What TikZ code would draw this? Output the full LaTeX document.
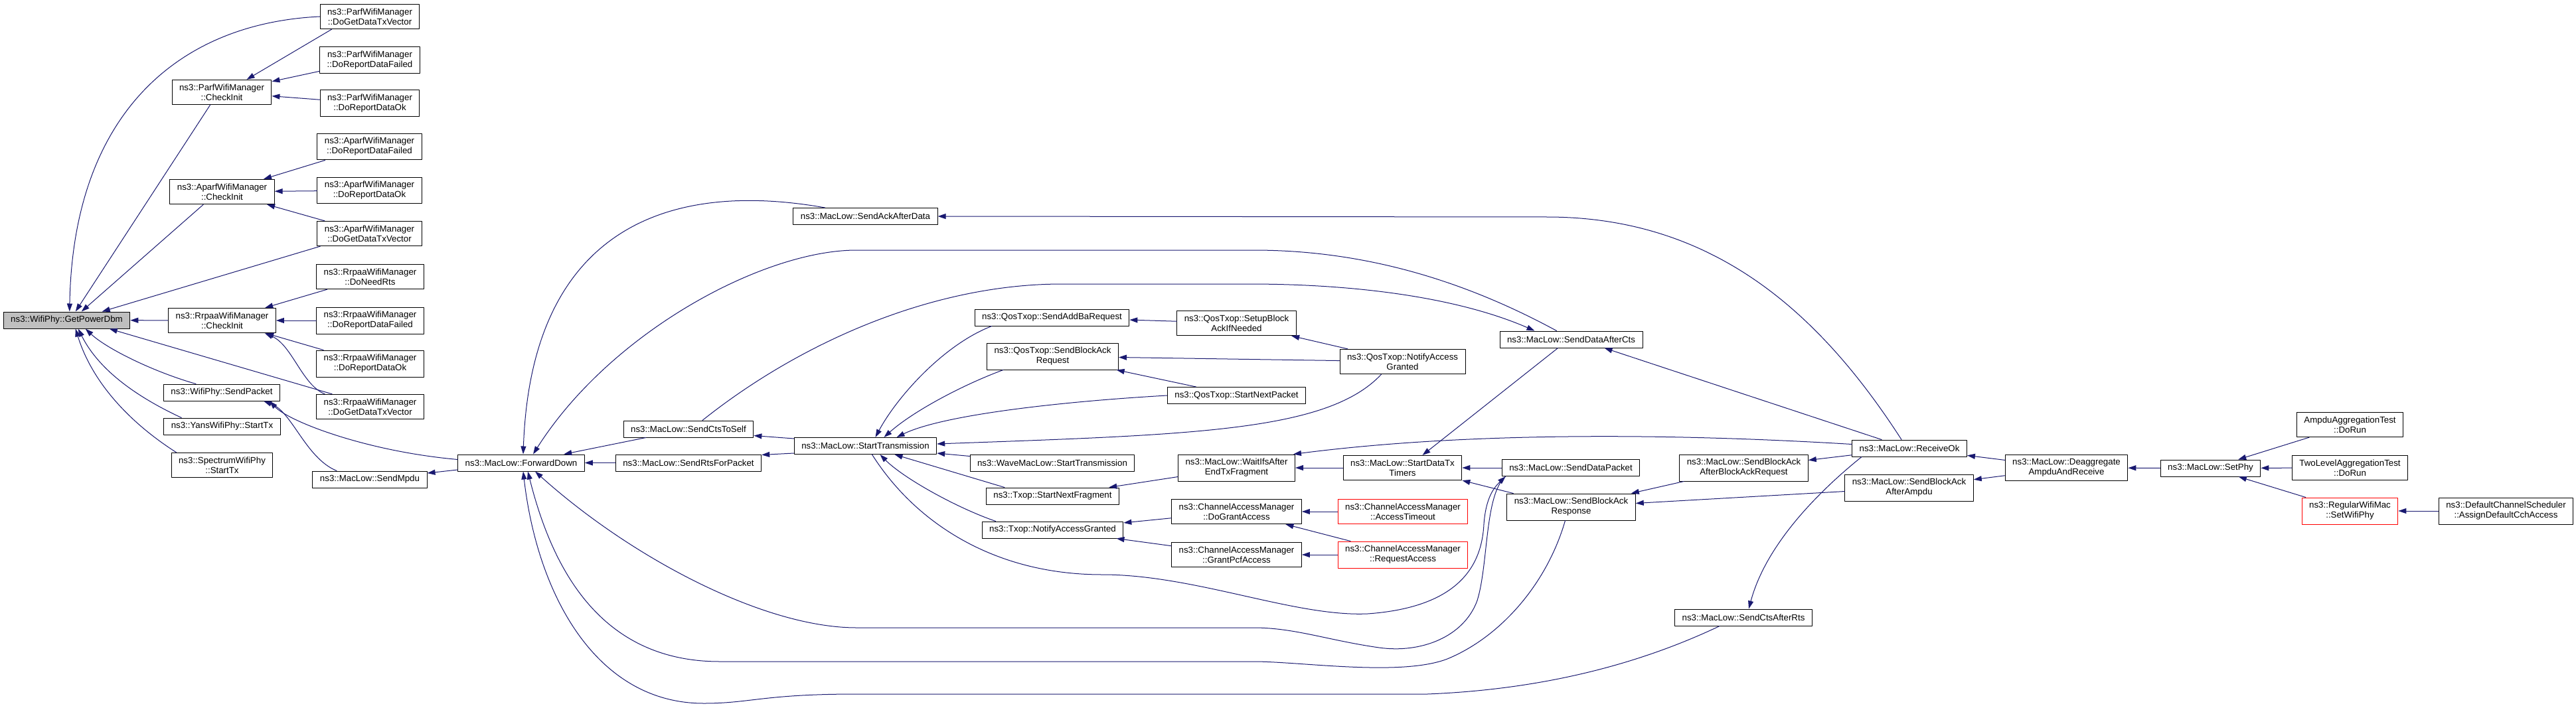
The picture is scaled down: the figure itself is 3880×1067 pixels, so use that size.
\documentclass[tikz,border=0pt]{standalone}
\usepackage{fontspec}
\setmainfont{Liberation Sans}
\usetikzlibrary{arrows.meta}
\definecolor{edgeblue}{RGB}{25,25,112}
\definecolor{focusgray}{RGB}{191,191,191}
\begin{document}
\begin{tikzpicture}[x=1pt,y=-1pt,font=\fontsize{13.3}{15}\selectfont,line join=round,line cap=round,>={Triangle[length=12pt,width=8pt]},
	fn/.style={draw=black,fill=white,line width=1pt,align=center,inner xsep=11pt,inner ysep=6.3pt,minimum height=25pt},
	focus/.style={fn,fill=focusgray},
	undoc/.style={fn,draw=red},
	call/.style={->,edgeblue,line width=1pt}]
	\useasboundingbox (0,0) rectangle (3880,1067);
	% functions
	\node[focus] (pow) at (100.5,482.5) {ns3::WifiPhy::GetPowerDbm};
	\foreach \nm/\x/\y/\txt in {
		parfci/334/139/{ns3::ParfWifiManager\\::CheckInit},
		aparfci/334.5/289/{ns3::AparfWifiManager\\::CheckInit},
		rrpaaci/334.5/483/{ns3::RrpaaWifiManager\\::CheckInit},
		sendpkt/334/591.5/{ns3::WifiPhy::SendPacket},
		yans/334.5/642.5/{ns3::YansWifiPhy::StartTx},
		spectrum/334.5/701/{ns3::SpectrumWifiPhy\\::StartTx},
		parftx/557/25/{ns3::ParfWifiManager\\::DoGetDataTxVector},
		parffail/557/91/{ns3::ParfWifiManager\\::DoReportDataFailed},
		parfok/557/156/{ns3::ParfWifiManager\\::DoReportDataOk},
		aparffail/556.5/221/{ns3::AparfWifiManager\\::DoReportDataFailed},
		aparfok/556.5/287/{ns3::AparfWifiManager\\::DoReportDataOk},
		aparftx/556.5/352/{ns3::AparfWifiManager\\::DoGetDataTxVector},
		rrpaarts/557.5/417/{ns3::RrpaaWifiManager\\::DoNeedRts},
		rrpaafail/557.5/483/{ns3::RrpaaWifiManager\\::DoReportDataFailed},
		rrpaaok/557.5/548/{ns3::RrpaaWifiManager\\::DoReportDataOk},
		rrpaatx/557.5/613/{ns3::RrpaaWifiManager\\::DoGetDataTxVector},
		mpdu/557/722.5/{ns3::MacLow::SendMpdu},
		fwd/785/697.5/{ns3::MacLow::ForwardDown},
		ctsself/1037/646.5/{ns3::MacLow::SendCtsToSelf},
		rts/1037/697.5/{ns3::MacLow::SendRtsForPacket},
		ackdata/1303.5/326/{ns3::MacLow::SendAckAfterData},
		starttx/1303.5/672/{ns3::MacLow::StartTransmission},
		addba/1584.5/478.5/{ns3::QosTxop::SendAddBaRequest},
		bar/1585.5/537/{ns3::QosTxop::SendBlockAck\\Request},
		wave/1585/697.5/{ns3::WaveMacLow::StartTransmission},
		nextfrag/1585.5/747.5/{ns3::Txop::StartNextFragment},
		txopnag/1585.5/798.5/{ns3::Txop::NotifyAccessGranted},
		setupba/1862.5/487/{ns3::QosTxop::SetupBlock\\AckIfNeeded},
		nextpkt/1862.5/596/{ns3::QosTxop::StartNextPacket},
		waitifs/1862.5/705/{ns3::MacLow::WaitIfsAfter\\EndTxFragment},
		grant/1862.5/771/{ns3::ChannelAccessManager\\::DoGrantAccess},
		pcf/1862.5/836/{ns3::ChannelAccessManager\\::GrantPcfAccess},
		qosnag/2112.5/545/{ns3::QosTxop::NotifyAccess\\Granted},
		timers/2112.5/705/{ns3::MacLow::StartDataTx\\Timers},
		dataafter/2366.5/511.5/{ns3::MacLow::SendDataAfterCts},
		datapkt/2366/705/{ns3::MacLow::SendDataPacket},
		baresp/2366.5/764/{ns3::MacLow::SendBlockAck\\Response},
		babar/2626.5/705/{ns3::MacLow::SendBlockAck\\AfterBlockAckRequest},
		ctsrts/2626/930.5/{ns3::MacLow::SendCtsAfterRts},
		recvok/2876/675.5/{ns3::MacLow::ReceiveOk},
		baampdu/2875.5/735/{ns3::MacLow::SendBlockAck\\AfterAmpdu},
		deagg/3112.5/705/{ns3::MacLow::Deaggregate\\AmpduAndReceive},
		setphy/3329.5/705.5/{ns3::MacLow::SetPhy},
		ampdutest/3539.5/640/{AmpduAggregationTest\\::DoRun},
		twolevel/3539.5/705/{TwoLevelAggregationTest\\::DoRun},
		cch/3774.5/770/{ns3::DefaultChannelScheduler\\::AssignDefaultCchAccess}}
		\node[fn] (\nm) at (\x,\y) {\txt};
	\foreach \nm/\x/\y/\txt in {
		timeout/2113/771/{ns3::ChannelAccessManager\\::AccessTimeout},
		reqacc/2113/836/{ns3::ChannelAccessManager\\::RequestAccess},
		setwifiphy/3539.5/770/{ns3::RegularWifiMac\\::SetWifiPhy}}
		\node[undoc] (\nm) at (\x,\y) {\txt};
	% straight calls
	\foreach \a/\b in {parffail/parfci, parfok/parfci, aparffail/aparfci, aparfok/aparfci, aparftx/aparfci,
		rrpaarts/rrpaaci, rrpaafail/rrpaaci, rrpaaok/rrpaaci, rrpaaci/pow, fwd/mpdu, ctsself/fwd, rts/fwd,
		setupba/addba, qosnag/setupba, qosnag/bar, nextpkt/bar, datapkt/timers, timers/waitifs, waitifs/nextfrag,
		recvok/babar, deagg/recvok, deagg/baampdu, babar/baresp, baampdu/baresp, setphy/deagg, ampdutest/setphy,
		twolevel/setphy, setwifiphy/setphy, cch/setwifiphy, grant/txopnag, pcf/txopnag, timeout/grant,
		reqacc/grant, reqacc/pcf}
		\draw[call] (\a) -- (\b);
	% calls into GetPowerDbm
	\draw[call] (parftx.west) .. controls (270,35) and (110,170) .. ([xshift=100pt]pow.north west);
	\draw[call] ([xshift=58pt]parfci.south west) -- ([xshift=109pt]pow.north west);
	\draw[call] ([xshift=51pt]aparfci.south west) -- ([xshift=118pt]pow.north west);
	\draw[call] ([xshift=5pt]aparftx.south west) -- ([xshift=149pt]pow.north west);
	\draw[call] ([xshift=24pt]rrpaatx.north west) -- ([xshift=160pt]pow.south west);
	\draw[call] ([xshift=49pt]sendpkt.north west) .. controls (230,560) and (160,525) .. ([xshift=124pt]pow.south west);
	\draw[call] ([xshift=27pt]yans.north west) .. controls (210,600) and (150,560) .. ([xshift=113pt]pow.south west);
	\draw[call] ([xshift=8pt]spectrum.north west) .. controls (200,640) and (140,580) .. ([xshift=109pt]pow.south west);
	\draw[call] ([xshift=18pt]parftx.south west) -- ([xshift=113pt]parfci.north west);
	\draw[call] ([xshift=13pt]rrpaatx.north west) .. controls (455,580) and (440,520) .. ([xshift=-17pt]rrpaaci.south east);
	\draw[call] ([yshift=5pt]fwd.west) .. controls (550,680) and (435,635) .. ([xshift=-16pt]sendpkt.south east);
	\draw[call] ([xshift=-50pt]mpdu.north) .. controls (460,690) and (440,620) .. ([xshift=-25pt]sendpkt.south east);
	% calls into ForwardDown
	\draw[call] ([xshift=-61pt]ackdata.north) .. controls (1000,270) and (800,350) .. ([xshift=3pt]fwd.north);
	\draw[call] ([xshift=-22pt]dataafter.north) .. controls (2200,420) and (2050,377) .. (1888,377) -- (1290,377)
		.. controls (1150,377) and (920,500) .. ([xshift=18pt]fwd.north);
	\draw[call] ([xshift=6pt]datapkt.south west) .. controls (2236,745) and (2242,850) .. (2225,905)
		.. controls (2205,960) and (2140,985) .. (2077,976) .. controls (2000,965) and (1950,946) .. (1888,946)
		-- (1290,946) .. controls (1150,946) and (950,840) .. ([xshift=21pt]fwd.south);
	\draw[call] ([xshift=-9pt]baresp.south) .. controls (2330,880) and (2260,960) .. (2180,993)
		.. controls (2110,1020) and (1960,997) .. (1888,997) -- (1084,997)
		.. controls (900,997) and (830,850) .. ([xshift=10pt]fwd.south);
	\draw[call] ([xshift=-36pt]ctsrts.south) .. controls (2450,1010) and (2300,1040) .. (2150,1046) -- (1290,1046)
		.. controls (1150,1046) and (1130,1060) .. (1060,1060) .. controls (900,1060) and (810,900) .. ([xshift=3pt]fwd.south);
	% StartTransmission
	\draw[call] ([yshift=11pt]starttx.west) -- ([yshift=-10pt]ctsself.east);
	\draw[call] ([yshift=-11pt]starttx.west) -- ([yshift=12pt]rts.east);
	\draw[call] ([yshift=10pt]wave.west) -- ([yshift=-11pt]starttx.east);
	\draw[call] ([xshift=-32pt]qosnag.south) .. controls (2000,650) and (1800,655) .. ([yshift=3pt]starttx.east);
	\draw[call] ([xshift=26pt]addba.south west) .. controls (1420,520) and (1350,600) .. ([xshift=15pt]starttx.north);
	\draw[call] ([xshift=25pt]bar.south west) .. controls (1450,580) and (1375,620) .. ([xshift=28pt]starttx.north);
	\draw[call] (nextpkt.west) .. controls (1600,605) and (1420,625) .. ([xshift=47pt]starttx.north);
	\draw[call] ([xshift=28pt]nextfrag.north west) -- ([xshift=44pt]starttx.south);
	\draw[call] ([xshift=21pt]txopnag.north west) .. controls (1440,765) and (1360,720) .. ([xshift=22pt]starttx.south);
	\draw[call] ([xshift=10pt]starttx.south) .. controls (1380,790) and (1500,866) .. (1660,866)
		.. controls (1800,866) and (1950,930) .. (2060,925) .. controls (2200,915) and (2232,850) .. (2235,790)
		.. controls (2238,750) and (2250,735) .. ([xshift=6pt]datapkt.south west);
	\draw[call] ([xshift=21pt]ctsself.north) .. controls (1200,520) and (1400,428) .. (1600,428) -- (1880,428)
		.. controls (2050,428) and (2200,450) .. ([xshift=-55pt]dataafter.north);
	% ReceiveOk and the rest
	\draw[call] ([xshift=-12pt]recvok.north) .. controls (2740,470) and (2580,327) .. (2330,327) -- (ackdata.east);
	\draw[call] ([xshift=-42pt]recvok.north) -- ([xshift=50pt]dataafter.south);
	\draw[call] ([yshift=6pt]recvok.west) .. controls (2500,652) and (2200,652) .. ([xshift=-3pt]waitifs.north east);
	\draw[call] ([xshift=-72pt]recvok.south) .. controls (2740,740) and (2660,820) .. ([xshift=8pt]ctsrts.north);
	\draw[call] ([xshift=-20pt]dataafter.south) -- ([xshift=30pt]timers.north);
	\draw[call] ([xshift=10pt]baresp.north west) -- (timers.south east);
\end{tikzpicture}
\end{document}
